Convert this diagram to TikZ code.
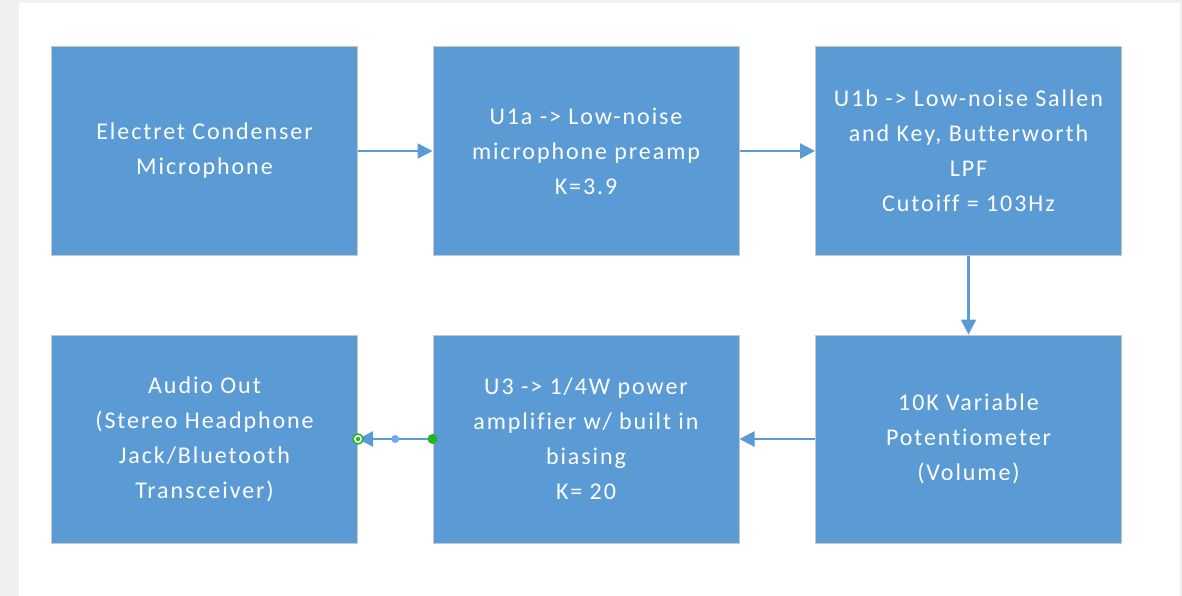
\documentclass[tikz,border=0pt]{standalone}
\usepackage{fontspec}
\setmainfont{Carlito}[LetterSpace=8,Ligatures={NoCommon}]
\usetikzlibrary{arrows.meta}
\definecolor{boxblue}{HTML}{5B9BD5}
\definecolor{pagegray}{HTML}{F0F0F0}
\definecolor{handlegreen}{HTML}{22B722}
\definecolor{dotblue}{HTML}{6FA8F0}
\tikzset{
  blockbox/.style={draw=black!22, line width=1pt, fill=boxblue, minimum width=306pt, minimum height=208pt,
    inner sep=0pt, align=center, text=white, font=\fontsize{24}{35}\selectfont},
  flow/.style={draw=boxblue, line width=2.3pt, -{Triangle[length=15pt,width=15pt]}},
}
\begin{document}
\begin{tikzpicture}[x=1pt,y=-1pt]
\useasboundingbox (0,0) rectangle (1182,596);
\fill[pagegray] (0,0) rectangle (1182,596);
\fill[white] (19,3) rectangle (1180,596);
\node[blockbox] (mic) at (204.5,151) {Electret Condenser\\Microphone};
\node[blockbox] (pre) at (586,151) {U1a -> Low-noise\\microphone preamp\\K=3.9};
\node[blockbox] (lpf) at (968.5,151) {U1b -> Low-noise Sallen\\and Key, Butterworth\\LPF\\Cutoiff = 103Hz};
\node[blockbox] (out) at (204.5,439) {Audio Out\\(Stereo Headphone\\Jack/Bluetooth\\Transceiver)};
\node[blockbox] (amp) at (586,439) {U3 -> 1/4W power\\amplifier w/ built in\\biasing\\K= 20};
\node[blockbox] (pot) at (968.5,439) {10K Variable\\Potentiometer\\(Volume)};
\draw[flow] (mic.east) -- (pre.west);
\draw[flow] (pre.east) -- (lpf.west);
\draw[flow] (lpf.south) -- (pot.north);
\draw[flow] (pot.west) -- (amp.east);
\draw[flow] (amp.west) -- coordinate[pos=0.5] (mid) (out.east);
\fill[dotblue] (mid) circle (4pt);
\fill[handlegreen] (amp.west) circle (5pt);
\filldraw[fill=white, draw=handlegreen, line width=1.5pt] (out.east) circle (5pt);
\fill[handlegreen] (out.east) circle (2.2pt);
\end{tikzpicture}
\end{document}
